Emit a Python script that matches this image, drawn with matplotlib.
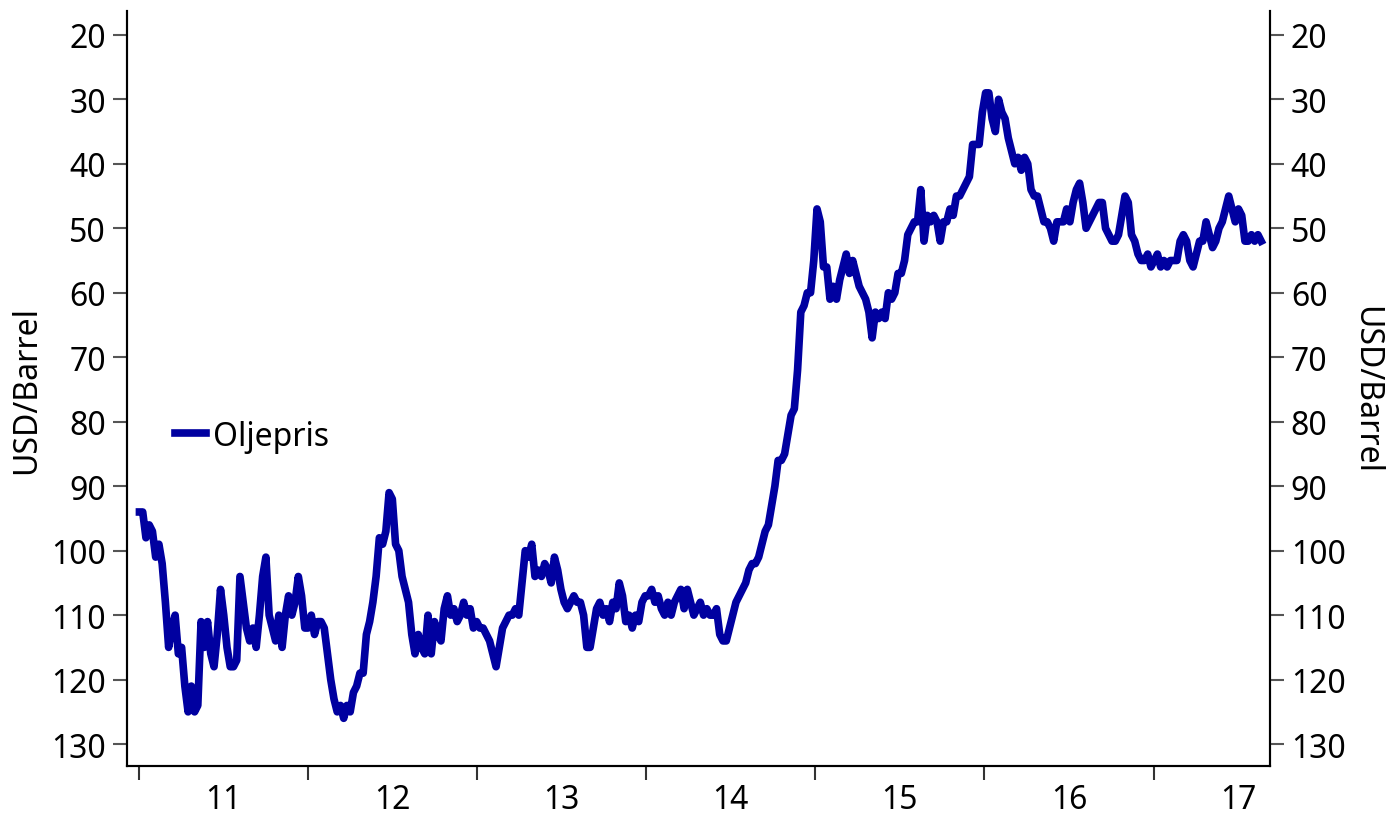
import pandas as pd
import matplotlib.pyplot as plt
import matplotlib.dates as mdates

plt.rcParams['font.family'] = ['Noto Sans', 'DejaVu Sans']

# ukentlige oljepriser (USD/fat)
pris_2011 = [94, 94, 98, 96, 97, 101, 99, 102, 108, 115, 112, 110, 116, 115, 121, 125,
             121, 125, 124, 111, 115, 111, 116, 118, 113, 106, 110, 115, 118, 118, 117, 104,
             108, 112, 114, 112, 115, 110, 104, 101, 110, 112, 114, 110, 115, 110, 107, 110,
             108, 104, 107, 112]
pris_2012 = [112, 110, 113, 111, 111, 112, 116, 120, 123, 125, 124, 126, 124, 125, 122, 121,
             119, 119, 113, 111, 108, 104, 98, 99, 97, 91, 92, 99, 100, 104, 106, 108,
             113, 116, 113, 115, 116, 110, 116, 111, 113, 114, 109, 107, 110, 109, 111, 110,
             108, 110, 109, 112]
pris_2013 = [111, 112, 112, 113, 114, 116, 118, 115, 112, 111, 110, 110, 109, 110, 105, 100,
             101, 99, 104, 103, 104, 102, 103, 105, 101, 103, 106, 108, 109, 108, 107, 108,
             108, 110, 115, 115, 112, 109, 108, 110, 109, 111, 108, 109, 105, 107, 111, 110,
             112, 110, 111, 108]
pris_2014 = [107, 107, 106, 108, 107, 109, 110, 108, 110, 108, 107, 106, 109, 106, 108, 110,
             109, 108, 110, 109, 110, 110, 109, 113, 114, 114, 112, 110, 108, 107, 106, 105,
             103, 102, 102, 101, 99, 97, 96, 93, 90, 86, 86, 85, 82, 79, 78, 72,
             63, 62, 60, 60]
pris_2015 = [55, 47, 49, 56, 56, 61, 59, 61, 58, 56, 54, 57, 55, 57, 59, 60,
             61, 63, 67, 63, 64, 63, 64, 60, 61, 60, 57, 57, 55, 51, 50, 49,
             49, 44, 52, 48, 49, 48, 49, 52, 49, 49, 47, 48, 45, 45, 44, 43,
             42, 37, 37, 37]
pris_2016 = [32, 29, 29, 33, 35, 30, 32, 33, 36, 38, 40, 39, 41, 39, 40, 44,
             45, 45, 47, 49, 49, 50, 52, 49, 49, 49, 47, 49, 46, 44, 43, 46,
             50, 49, 48, 47, 46, 46, 50, 51, 52, 52, 51, 48, 45, 46, 51, 52,
             54, 55, 55, 54]
pris_2017 = [56, 55, 54, 56, 55, 56, 55, 55, 55, 52, 51, 52, 55, 56, 54, 52,
             52, 49, 51, 53, 52, 50, 49, 47, 45, 47, 49, 47, 48, 52, 52, 51,
             52, 51, 52]

priser = pris_2011 + pris_2012 + pris_2013 + pris_2014 + pris_2015 + pris_2016 + pris_2017
datoer = pd.date_range("2011-01-03", periods=len(priser), freq="7D")

y_ticks = list(range(20, 140, 10))
fs = 23

fig = plt.figure(figsize=(13.89, 8.2), dpi=100)
ax = fig.add_axes([0.0914, 0.0646, 0.8229, 0.9208])
ax.plot(datoer, priser, color="#0000A0", linewidth=5.5, label="Oljepris")

ax.set_ylim(133.4, 16.3)
ax.set_xlim(pd.Timestamp("2010-12-07"), pd.Timestamp("2017-09-09"))
ax.set_yticks(y_ticks)

ax.xaxis.set_major_locator(mdates.YearLocator())
ax.xaxis.set_major_formatter(plt.NullFormatter())
ax.xaxis.set_minor_locator(mdates.MonthLocator(bymonth=7, bymonthday=2))
ax.xaxis.set_minor_formatter(mdates.DateFormatter("%y"))
ax.tick_params(axis="x", which="minor", length=0, labelsize=fs, pad=12)
ax.tick_params(axis="x", which="major", length=10, width=1.5, color="#333333")
ax.tick_params(axis="y", length=10, width=1.5, color="#555555", labelsize=fs, pad=5)

ax2 = ax.twinx()
ax2.set_ylim(ax.get_ylim())
ax2.set_yticks(y_ticks)
ax2.tick_params(axis="y", length=10, width=1.5, color="#555555", labelsize=fs, pad=5)

for a in (ax, ax2):
    a.spines["top"].set_visible(False)
    for s in ("left", "right", "bottom"):
        a.spines[s].set_linewidth(1.5)

ax.set_ylabel("USD/Barrel", fontsize=fs, labelpad=6)
ax2.set_ylabel("USD/Barrel", fontsize=fs, rotation=270, labelpad=26)

ax.legend(loc="center left", bbox_to_anchor=(0.031, 0.437), frameon=False,
          borderaxespad=0, fontsize=fs, handlelength=0.95, handletextpad=0.25)

fig.savefig("out.png", dpi=100)
